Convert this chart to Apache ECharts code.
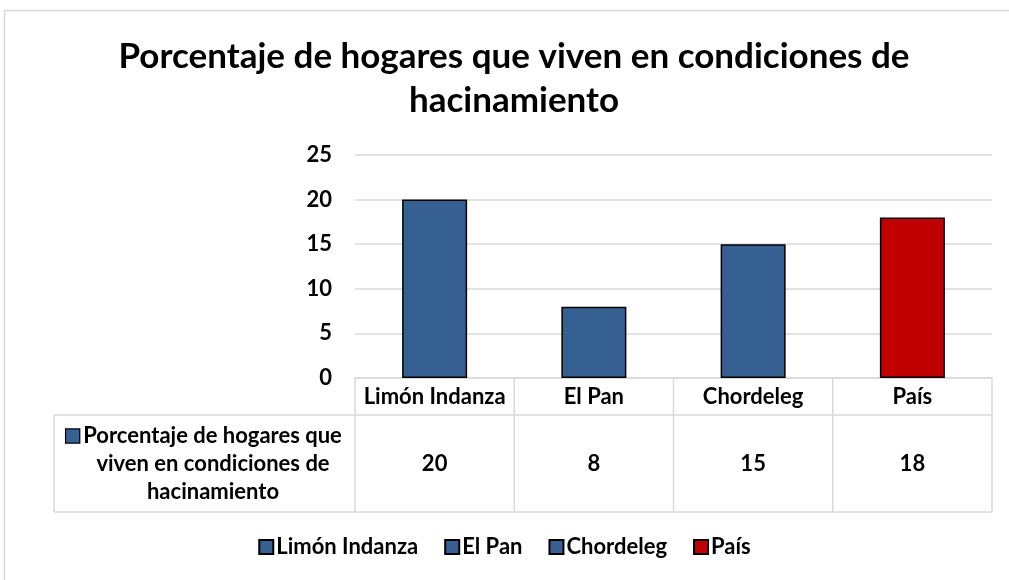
<!DOCTYPE html>
<html>
<head>
<meta charset="utf-8">
<script src="https://cdn.jsdelivr.net/npm/echarts@6/dist/echarts.min.js"></script>
<style>
  html, body { margin: 0; padding: 0; background: #fff; }
  #main { width: 1009px; height: 580px; }
</style>
</head>
<body>
<div id="main"></div>
<script>
// datos
var categories = ['Limón Indanza', 'El Pan', 'Chordeleg', 'País']
var values = [20, 8, 15, 18]
var barColors = ['#376092', '#376092', '#376092', '#C00000']
var yMin = 0
var yMax = 25
var yStep = 5
var rowLabel = ['Porcentaje de hogares que', 'viven en condiciones de', 'hacinamiento']
var titleText = 'Porcentaje de hogares que viven en condiciones de\nhacinamiento'

var font = 'Lato, "Open Sans", sans-serif'
var gridColor = '#d9d9d9'
var fs = 22

// zona del grafico
var plotLeft = 355
var plotRight = 992
var plotTop = 155
var plotBottom = 378
var tableLeft = 54
var rowSplit = 415
var tableBottom = 512

var myChart = echarts.init(document.getElementById('main'))

// una serie por categoria para que la leyenda salga con 4 entradas
var series = categories.map(function (name, i) {
  var d = categories.map(function (c, j) {
    return j === i ? values[i] : '-'
  })
  return {
    name: name,
    type: 'bar',
    stack: 'total',
    data: d,
    barWidth: 65,
    itemStyle: {
      color: barColors[i],
      borderColor: '#000',
      borderWidth: 1.5,
    },
  }
})

var option = {
  backgroundColor: '#fff',
  animation: false,
  title: {
    text: titleText,
    left: 514,
    top: 35,
    padding: 0,
    textAlign: 'center',
    textStyle: {
      fontFamily: font,
      fontWeight: 'bold',
      fontSize: 35,
      lineHeight: 44,
      color: '#000',
    },
  },
  grid: {
    left: plotLeft,
    right: 1009 - plotRight,
    top: plotTop,
    bottom: 580 - plotBottom,
    containLabel: false,
  },
  legend: {
    data: categories,
    icon: 'rect',
    bottom: 17,
    left: 'center',
    itemWidth: 14,
    itemHeight: 14,
    itemGap: 26,
    textStyle: {
      fontFamily: font,
      fontWeight: 'bold',
      fontSize: fs,
      color: '#000',
      padding: [0, 0, 0, -2],
    },
  },
  xAxis: {
    type: 'category',
    data: categories,
    axisLine: { show: true, lineStyle: { color: gridColor, width: 1.5 } },
    axisTick: { show: false },
    axisLabel: {
      interval: 0,
      margin: 8,
      fontFamily: font,
      fontWeight: 'bold',
      fontSize: fs,
      lineHeight: 22,
      color: '#000',
    },
  },
  yAxis: {
    type: 'value',
    min: yMin,
    max: yMax,
    interval: yStep,
    axisLine: { show: false },
    axisTick: { show: false },
    splitLine: { lineStyle: { color: gridColor, width: 1.5 } },
    axisLabel: {
      margin: 23,
      fontFamily: font,
      fontWeight: 'bold',
      fontSize: fs,
      color: '#000',
    },
  },
  series: series,
}

myChart.setOption(option)

// tabla de datos debajo del eje
var cellW = (plotRight - plotLeft) / categories.length
var g = []
var line = function (x1, y1, x2, y2) {
  g.push({
    type: 'line',
    shape: { x1: x1, y1: y1, x2: x2, y2: y2 },
    style: { stroke: gridColor, lineWidth: 1.5 },
    silent: true,
  })
}
// borde exterior
g.push({
  type: 'rect',
  shape: { x: 4.5, y: 10.5, width: 1020, height: 600 },
  style: { fill: null, stroke: gridColor, lineWidth: 1.5 },
  silent: true,
})
for (var k = 0; k <= categories.length; k++) {
  var x = plotLeft + cellW * k
  line(x, plotBottom, x, tableBottom)
}
line(tableLeft, rowSplit, plotRight, rowSplit)
line(tableLeft, tableBottom, plotRight, tableBottom)
line(tableLeft, rowSplit, tableLeft, tableBottom)

categories.forEach(function (c, i) {
  var cx = myChart.convertToPixel({ xAxisIndex: 0 }, c)
  g.push({
    type: 'text',
    x: cx,
    y: (rowSplit + tableBottom) / 2,
    style: {
      text: String(values[i]),
      fontFamily: font,
      fontWeight: 'bold',
      fontSize: fs,
      fill: '#000',
      align: 'center',
      verticalAlign: 'middle',
    },
    silent: true,
  })
})

// etiqueta de la fila con su icono
var lineYs = [436, 464, 492]
rowLabel.forEach(function (t, i) {
  g.push({
    type: 'text',
    x: i === 0 ? 204 : 213,
    y: lineYs[i],
    style: {
      text: i === 0 ? '{i|}{t|' + t + '}' : t,
      fontFamily: font,
      fontWeight: 'bold',
      fontSize: fs,
      fill: '#000',
      align: 'center',
      verticalAlign: 'middle',
      rich: {
        i: {
          width: 13,
          height: 13,
          backgroundColor: barColors[0],
          borderColor: '#000',
          borderWidth: 1.2,
        },
        t: {
          fontFamily: font,
          fontWeight: 'bold',
          fontSize: fs,
          padding: [0, 0, 0, 4],
        },
      },
    },
    silent: true,
  })
})

myChart.setOption({ graphic: g })
</script>
</body>
</html>
